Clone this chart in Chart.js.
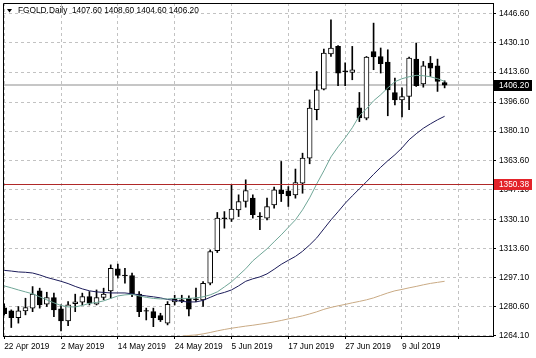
<!DOCTYPE html>
<html><head><meta charset="utf-8">
<script src="https://cdn.jsdelivr.net/npm/chart.js@4.4.0/dist/chart.umd.min.js"></script>
<style>html,body{margin:0;padding:0;background:#fff;overflow:hidden}#wrap{width:536px;height:358px;position:relative}</style>
</head><body><div id="wrap"><canvas id="c" width="536" height="358"></canvas></div>
<script>
const symbolTitle = 'FGOLD.Daily';
const dates = ['22 Apr 2019','23 Apr 2019','24 Apr 2019','25 Apr 2019','26 Apr 2019','29 Apr 2019','30 Apr 2019','1 May 2019','2 May 2019','3 May 2019','6 May 2019','7 May 2019','8 May 2019','9 May 2019','10 May 2019','13 May 2019','14 May 2019','15 May 2019','16 May 2019','17 May 2019','20 May 2019','21 May 2019','22 May 2019','23 May 2019','24 May 2019','27 May 2019','28 May 2019','29 May 2019','30 May 2019','31 May 2019','3 Jun 2019','4 Jun 2019','5 Jun 2019','6 Jun 2019','7 Jun 2019','10 Jun 2019','11 Jun 2019','12 Jun 2019','13 Jun 2019','14 Jun 2019','17 Jun 2019','18 Jun 2019','19 Jun 2019','20 Jun 2019','21 Jun 2019','24 Jun 2019','25 Jun 2019','26 Jun 2019','27 Jun 2019','28 Jun 2019','1 Jul 2019','2 Jul 2019','3 Jul 2019','4 Jul 2019','5 Jul 2019','8 Jul 2019','9 Jul 2019','10 Jul 2019','11 Jul 2019','12 Jul 2019','15 Jul 2019','16 Jul 2019','17 Jul 2019'];

const opens  = [1279.9,1278.2,1274.4,1278.2,1279.8,1289.6,1282.0,1285.8,1279.4,1272.6,1282.3,1283.2,1286.4,1282.0,1285.8,1289.6,1302.0,1298.5,1298.3,1287.7,1278.0,1277.8,1275.6,1271.3,1283.3,1284.0,1285.4,1284.5,1284.5,1293.9,1312.4,1330.5,1330.2,1335.5,1340.2,1342.1,1331.9,1330.8,1338.3,1346.8,1346.3,1344.0,1350.6,1364.8,1392.2,1403.9,1423.9,1428.1,1414.2,1413.3,1393.3,1387.5,1425.2,1422.4,1419.2,1402.0,1397.8,1399.7,1420.9,1406.9,1418.7,1417.1,1407.6];
const highs  = [1282.2,1278.8,1280.7,1285.4,1292.0,1291.1,1288.8,1288.3,1281.6,1283.5,1287.7,1288.3,1289.2,1290.1,1291.1,1304.3,1304.7,1302.4,1299.6,1289.2,1279.8,1279.8,1276.9,1283.5,1287.1,1287.1,1286.7,1291.1,1294.8,1312.8,1334.0,1334.5,1349.7,1344.0,1352.5,1344.0,1334.0,1342.1,1348.4,1362.9,1348.7,1358.6,1367.6,1397.8,1413.9,1426.6,1443.2,1428.6,1418.8,1428.1,1402.0,1422.4,1441.3,1427.2,1426.2,1410.1,1404.6,1422.0,1430.0,1419.6,1422.4,1420.9,1408.6];
const lows   = [1275.9,1268.8,1271.3,1276.0,1277.8,1279.8,1280.7,1275.0,1266.9,1269.9,1277.8,1281.6,1281.6,1281.6,1284.5,1285.4,1296.8,1293.9,1286.3,1275.0,1273.1,1269.3,1272.2,1270.3,1281.6,1282.9,1275.4,1283.5,1280.7,1293.0,1311.3,1325.1,1328.9,1331.7,1337.0,1330.8,1324.2,1329.8,1336.5,1340.2,1337.4,1342.1,1344.9,1361.6,1386.5,1403.5,1422.4,1405.8,1405.8,1409.2,1385.5,1386.5,1414.9,1413.0,1388.8,1395.0,1388.2,1392.2,1405.4,1405.0,1411.1,1402.6,1404.6];
const closes = [1276.7,1274.4,1278.2,1280.1,1287.7,1281.6,1285.8,1278.8,1272.6,1281.6,1283.4,1286.4,1282.6,1285.8,1287.7,1302.4,1298.3,1298.0,1287.7,1277.8,1278.4,1274.4,1273.1,1282.0,1284.8,1284.5,1279.2,1285.0,1293.9,1311.9,1330.8,1331.0,1335.9,1340.2,1346.4,1332.7,1331.5,1337.4,1346.8,1344.6,1343.4,1351.0,1364.8,1393.1,1403.5,1424.3,1427.2,1413.0,1413.8,1414.9,1387.6,1422.1,1422.1,1418.3,1403.5,1397.8,1399.7,1421.5,1405.8,1417.1,1415.8,1408.2,1406.2];

const fastMA = [1292.4,1291.3,1290.1,1289.0,1287.9,1286.2,1284.5,1282.8,1281.3,1280.5,1280.5,1281.3,1282.5,1283.0,1283.9,1285.3,1286.7,1287.3,1287.6,1286.7,1285.9,1285.3,1285.0,1285.0,1285.3,1285.3,1285.3,1285.6,1286.2,1287.3,1289.0,1291.8,1294.7,1298.4,1302.1,1306.6,1310.0,1313.4,1317.4,1321.3,1325.6,1329.8,1335.5,1342.3,1350.2,1357.6,1365.5,1371.2,1376.3,1382.0,1388.8,1392.7,1397.3,1400.7,1404.6,1408.1,1409.8,1410.9,1411.7,1411.5,1410.9,1409.8,1408.3];
const slowMA = [1301.2,1300.8,1300.3,1300.1,1299.7,1298.6,1297.2,1296.1,1295.0,1293.7,1292.1,1290.7,1289.6,1289.0,1288.7,1288.4,1288.4,1288.4,1287.9,1287.3,1286.7,1286.2,1285.6,1284.7,1284.2,1283.6,1283.3,1283.3,1284.2,1285.9,1287.6,1288.7,1290.1,1292.4,1295.0,1296.4,1297.5,1299.2,1301.8,1304.6,1306.9,1309.1,1312.0,1315.6,1319.6,1324.7,1329.8,1334.4,1339.2,1343.4,1347.4,1351.4,1355.6,1359.6,1363.3,1366.7,1370.6,1375.2,1378.6,1381.7,1384.2,1386.5,1388.5];
const longMA = [null,null,null,null,null,null,null,null,null,null,null,null,null,null,null,null,null,null,null,null,null,null,null,1262.6,1263.2,1263.8,1264.3,1264.6,1265.2,1266.0,1266.9,1267.7,1268.4,1269.0,1269.6,1270.1,1270.7,1271.3,1272.0,1272.8,1273.7,1274.5,1275.4,1276.5,1277.7,1279.1,1280.2,1281.1,1281.9,1282.8,1283.6,1284.5,1285.6,1287.0,1288.4,1289.6,1290.4,1291.3,1292.1,1293.0,1293.8,1294.4,1295.0];

const xTickIndices = [0,8,16,24,32,40,48,56,64];
const yTicks = [1446.60,1430.10,1413.60,1396.60,1380.10,1363.60,1347.10,1330.10,1313.60,1297.10,1280.60,1264.10];
const levelPrice = 1350.38;
const bidPrice = closes[closes.length-1];

const FONT = "'Liberation Sans', Arial, sans-serif";
const FSIZE = 8.3;
Chart.defaults.font.family = FONT;
Chart.defaults.font.size = FSIZE;
Chart.defaults.color = '#000';

const toPts = arr => arr.map((v,i)=>v==null?null:{x:i,y:v}).filter(p=>p);

const overlay = {
  id:'overlay',
  beforeDatasetsDraw(chart){
    const {ctx, chartArea:a, scales:{y}} = chart;
    const yb = Math.round(y.getPixelForValue(bidPrice));
    ctx.save();
    ctx.strokeStyle = '#c6c6c6'; ctx.lineWidth = 2;
    ctx.beginPath(); ctx.moveTo(a.left, yb); ctx.lineTo(a.right, yb); ctx.stroke();
    ctx.restore();
  },
  afterDatasetsDraw(chart){
    const {ctx, chartArea:a, scales:{y}} = chart;
    const yr = Math.round(y.getPixelForValue(levelPrice))+0.5;
    ctx.save();
    ctx.strokeStyle = '#b02828'; ctx.lineWidth = 1;
    ctx.beginPath(); ctx.moveTo(a.left, yr); ctx.lineTo(a.right, yr); ctx.stroke();
    ctx.restore();
  },
  afterDraw(chart){
    const {ctx, chartArea:a, scales:{y}} = chart;
    ctx.save();
    ctx.strokeStyle = '#000'; ctx.lineWidth = 1;
    ctx.beginPath();
    ctx.moveTo(a.left+0.5, a.bottom); ctx.lineTo(a.left+0.5, a.top+0.5); ctx.lineTo(a.right+0.5, a.top+0.5);
    ctx.stroke();
    ctx.fillStyle = '#000';
    ctx.beginPath(); ctx.moveTo(7,9); ctx.lineTo(12,9); ctx.lineTo(9.5,12.5); ctx.closePath(); ctx.fill();
    ctx.font = FSIZE + 'px ' + FONT;
    ctx.textBaseline = 'middle'; ctx.textAlign = 'left';
    const o = opens[62], h = highs[62], l = lows[62], c = closes[62];
    ctx.fillText(symbolTitle + '  ' + [o,h,l,c].map(v=>v.toFixed(2)).join(' '), 18, 11);
    const tag = (val, bg) => {
      const py = Math.round(y.getPixelForValue(val));
      ctx.fillStyle = bg;
      ctx.fillRect(a.right+1, py-5, 38, 11);
      ctx.fillStyle = '#fff';
      ctx.fillText(val.toFixed(2), a.right+6, py+0.5);
    };
    tag(bidPrice, '#000');
    tag(levelPrice, '#e3232a');
    ctx.restore();
  }
};

new Chart(document.getElementById('c'), {
  type: 'bar',
  data: {
    datasets: [
      {type:'line', label:'MA fast', data: toPts(fastMA), borderColor:'#6fa697', borderWidth:1, pointRadius:0, tension:0, order:-3},
      {type:'line', label:'MA slow', data: toPts(slowMA), borderColor:'#1c1c5a', borderWidth:1, pointRadius:0, tension:0, order:-2},
      {type:'line', label:'MA long', data: toPts(longMA), borderColor:'#c9aa84', borderWidth:1, pointRadius:0, tension:0, order:-1},
      {label:'wick', data: highs.map((hv,i)=>({x:i, y:[lows[i], hv]})), backgroundColor:'#000', borderWidth:0, barThickness:1, grouped:false, order:2},
      {label:'body', data: opens.map((ov,i)=>({x:i, y:[ov, closes[i]]})),
        backgroundColor: ctx => { const i = ctx.dataIndex; const d = closes[i]-opens[i]; return (d > 0.6) ? '#fff' : '#000'; },
        borderColor:'#000', borderWidth:1, borderSkipped:false, barThickness:5, grouped:false, order:1}
    ]
  },
  options: {
    responsive:false, animation:false, devicePixelRatio:1,
    layout:{padding:{left:3, top:3, right:0, bottom:0}},
    plugins:{legend:{display:false}, tooltip:{enabled:false}, title:{display:false}},
    scales:{
      x:{
        type:'linear', min:-0.165, max:68.81, offset:false,
        grid:{offset:false, color:'#c2c2c2', lineWidth:1, tickLength:3, tickColor:'#000', borderDash:[3,3], tickBorderDash:[]},
        border:{display:true, color:'#000', width:1, dash:[3,3]},
        ticks:{autoSkip:false, maxRotation:0, minRotation:0, align:'start', padding:3, color:'#000',
          callback: v => dates[v] || ''},
        afterBuildTicks: s => { s.ticks = xTickIndices.map(v=>({value:v})); },
        afterFit: s => { s.height = 22; s.paddingLeft = 0; s.paddingRight = 0; }
      },
      y:{
        position:'right', min:1264.0, max:1452.7,
        grid:{color:'#c2c2c2', lineWidth:1, tickLength:3, tickColor:'#000', borderDash:[3,3], tickBorderDash:[]},
        border:{display:true, color:'#000', width:1, dash:[3,3]},
        ticks:{autoSkip:false, padding:3, color:'#000', callback: v => Number(v).toFixed(2)},
        afterBuildTicks: s => { s.ticks = yTicks.map(v=>({value:v})); },
        afterFit: s => { s.width = 43; s.paddingTop = 0; s.paddingBottom = 0; }
      }
    }
  },
  plugins:[overlay]
});
</script>
</body></html>
